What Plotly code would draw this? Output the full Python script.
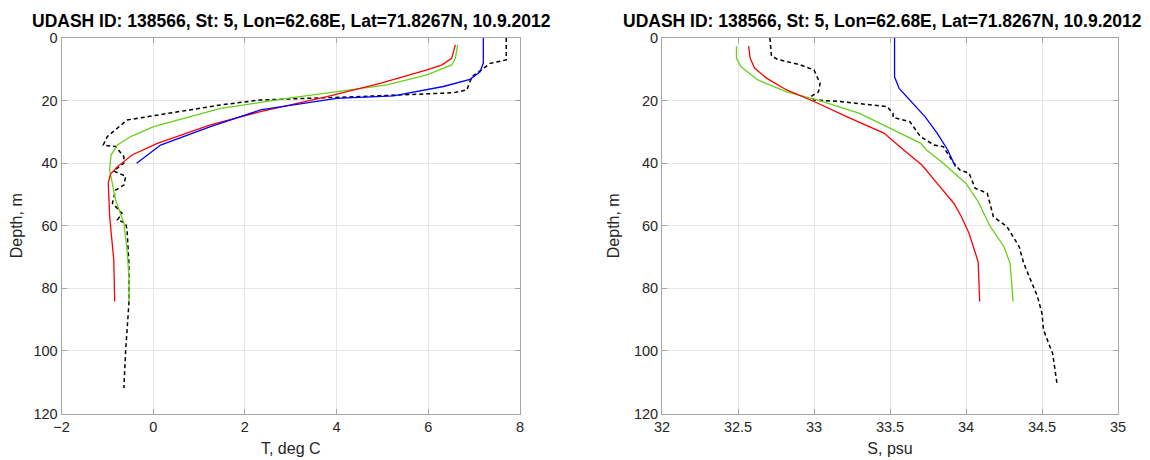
import plotly.graph_objects as go

# ---------------- Data ----------------
title_text = "UDASH ID: 138566, St: 5, Lon=62.68E, Lat=71.8267N, 10.9.2012"

# Temperature profiles (deg C) vs depth (m)
t_blue_val = [7.2, 7.2, 7.13, 6.91, 6.33, 5.24, 4.0, 2.34, 1.25, 0.16, -0.36]
t_blue_dep = [0, 8, 10.8, 13.2, 15.5, 18.5, 19.3, 23, 28.3, 34.2, 40]

t_red_val = [6.59, 6.51, 6.3, 5.97, 4.95, 3.79, 2.34, 1.25, 0.09, -0.46, -0.78, -0.93, -0.98, -0.95, -0.86, -0.84]
t_red_dep = [2.2, 6.5, 8.6, 10.2, 14.5, 18.7, 23.5, 27.8, 33.7, 37.4, 41.1, 43.5, 46.4, 57, 70.9, 84.2]

t_green_val = [6.64, 6.59, 6.51, 5.97, 5.1, 4.0, 2.92, 1.47, 0.01, -0.49, -0.78, -0.92, -0.95, -0.82, -0.64, -0.57, -0.53, -0.53]
t_green_dep = [2.2, 6.5, 8.6, 11.8, 15.0, 17.2, 19.3, 22.5, 28.3, 31.5, 34.2, 37.4, 42.2, 51.8, 59.2, 67.7, 76.3, 84.2]

t_obs_val = [7.7, 7.7, 7.35, 6.95, 6.84, 6.55, 4.52, 2.34, 1.47, -0.42, -0.57, -1.0, -1.09, -0.82, -0.64, -0.64,
             -0.86, -0.6, -0.64, -0.82, -0.89, -0.68, -0.78, -0.6, -0.57, -0.53, -0.53, -0.6, -0.64]
t_obs_dep = [0, 7, 8.1, 12.4, 16.6, 17.5, 18.7, 19.8, 21.4, 25.7, 26.2, 31.5, 34.2, 34.7, 37.9, 40,
             42.5, 44.2, 47, 48.6, 52.8, 56, 58.1, 59.2, 61.3, 72, 84.8, 99.7, 111.9]

# Salinity profiles (psu) vs depth (m)
s_blue_val = [33.53, 33.53, 33.56, 33.63, 33.73, 33.81, 33.88, 33.93]
s_blue_dep = [0, 12.4, 16.1, 19.8, 25.1, 30.4, 35.8, 41.1]

s_red_val = [32.57, 32.58, 32.61, 32.69, 32.82, 33.0, 33.24, 33.46, 33.59, 33.71, 33.82, 33.92, 33.97, 34.02, 34.08, 34.09]
s_red_dep = [2.6, 6.5, 9.7, 12.9, 16.6, 20.3, 25.7, 30.4, 35.8, 40.6, 47.0, 52.8, 57.1, 62.4, 71.5, 84.2]

s_green_val = [32.49, 32.49, 32.52, 32.63, 32.82, 33.02, 33.30, 33.52, 33.70, 33.74, 33.85, 34.0, 34.08, 34.16, 34.25, 34.29, 34.31]
s_green_dep = [2.6, 6.5, 9.2, 13.4, 17.2, 19.8, 24.1, 29.4, 33.6, 35.8, 40.0, 46.5, 52.3, 60.3, 66.7, 72.0, 84.2]

s_obs_val = [32.71, 32.72, 32.76, 32.91, 33.0, 33.04, 33.03, 32.98, 33.0, 33.17, 33.48, 33.52, 33.52, 33.63, 33.70,
             33.79, 33.85, 33.92, 33.96, 34.02, 34.06, 34.14, 34.18, 34.27, 34.35, 34.38, 34.47, 34.5, 34.51, 34.57, 34.60]
s_obs_dep = [0, 5.8, 6.8, 8.6, 10.2, 14.5, 17.2, 18.7, 19.8, 20.3, 21.9, 24.1, 25.4, 26.7, 31.5,
             34.2, 34.7, 40.0, 42.2, 43.2, 48.0, 49.6, 57.1, 60.3, 66.7, 72.0, 82.6, 88.0, 93.3, 100.8, 110.9]

t_ticks = [-2, 0, 2, 4, 6, 8]
s_ticks = [32, 32.5, 33, 33.5, 34, 34.5, 35]
s_tick_labels = ["32", "32.5", "33", "33.5", "34", "34.5", "35"]
depth_ticks = [0, 20, 40, 60, 80, 100, 120]

# ---------------- Style ----------------
BLUE = "#0000ff"
RED = "#ff0000"
GREEN = "#66d11a"
BLACK = "#000000"
FONT = "Liberation Sans, Arial, sans-serif"
AX_COLOR = "#a6a6a6"
GRID = "#e6e6e6"

fig = go.Figure()

def add(x, y, color, xa, ya, dash="solid", w=1.3):
    fig.add_trace(go.Scatter(x=x, y=y, mode="lines", line=dict(color=color, width=w, dash=dash),
                             xaxis=xa, yaxis=ya, showlegend=False, hoverinfo="skip"))

add(t_obs_val, t_obs_dep, BLACK, "x", "y", dash="4px,3px", w=1.5)
add(t_green_val, t_green_dep, GREEN, "x", "y")
add(t_red_val, t_red_dep, RED, "x", "y")
add(t_blue_val, t_blue_dep, BLUE, "x", "y")

add(s_obs_val, s_obs_dep, BLACK, "x2", "y2", dash="4px,3px", w=1.5)
add(s_green_val, s_green_dep, GREEN, "x2", "y2")
add(s_red_val, s_red_dep, RED, "x2", "y2")
add(s_blue_val, s_blue_dep, BLUE, "x2", "y2")

# page body adds an 8px offset; size figure to fit the window
OFF = 8
W, H = 1150 - OFF, 460 - OFF
ydom = [1 - (413.5 - OFF) / H, 1 - (38 - OFF) / H]
xdom1 = [(61.5 - OFF) / W, (520 - OFF) / W]
xdom2 = [(662 - OFF) / W, (1118 - OFF) / W]

common_axis = dict(showline=True, mirror="ticks", linecolor=AX_COLOR, linewidth=1,
                   ticks="inside", ticklen=5, tickcolor=AX_COLOR, automargin=False,
                   showgrid=True, gridcolor=GRID, gridwidth=1, zeroline=False,
                   tickfont=dict(family=FONT, size=14.5, color="#262626"))

fig.update_layout(
    width=W, height=H,
    margin=dict(l=0, r=0, t=0, b=0, autoexpand=False),
    paper_bgcolor="white", plot_bgcolor="white",
    font=dict(family=FONT, color="#262626"),
    xaxis=dict(domain=xdom1, range=[-2, 8], tickvals=t_ticks, anchor="y",
               title=dict(text="T, deg C", font=dict(family=FONT, size=16), standoff=8), **common_axis),
    yaxis=dict(domain=ydom, range=[120, 0], tickvals=depth_ticks, anchor="x",
               title=dict(text="Depth, m", font=dict(family=FONT, size=16), standoff=10), **common_axis),
    xaxis2=dict(domain=xdom2, range=[32, 35], tickvals=s_ticks, ticktext=s_tick_labels, anchor="y2",
                title=dict(text="S, psu", font=dict(family=FONT, size=16), standoff=8), **common_axis),
    yaxis2=dict(domain=ydom, range=[120, 0], tickvals=depth_ticks, anchor="x2",
                title=dict(text="Depth, m", font=dict(family=FONT, size=16), standoff=10), **common_axis),
)

for cx in (291, 883):
    fig.add_annotation(text="<b>" + title_text + "</b>", x=(cx - OFF) / W, y=1 - (21 - OFF) / H,
                       xref="paper", yref="paper", showarrow=False, xanchor="center", yanchor="middle",
                       font=dict(family=FONT, size=17.5, color="black"))

fig.write_html("out.html")
